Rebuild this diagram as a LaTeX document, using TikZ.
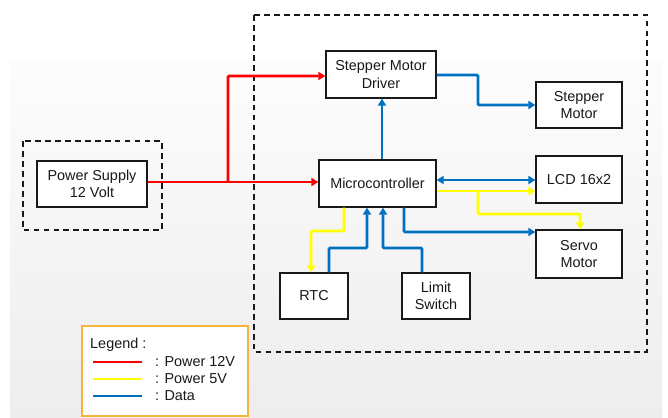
\documentclass[tikz,border=0pt]{standalone}
\usepackage{fontspec}
\setmainfont{Liberation Sans}
\usetikzlibrary{arrows.meta}
\definecolor{pRed}{RGB}{255,0,0}
\definecolor{pYel}{RGB}{255,255,0}
\definecolor{pBlue}{RGB}{0,112,192}
\definecolor{legOr}{RGB}{245,180,60}
\definecolor{txt}{RGB}{25,25,25}
\begin{document}
\begin{tikzpicture}[x=0.03cm,y=-0.03cm,
  blk/.style={draw=black!90,line width=1.2pt,fill=white,align=center,text=txt,
    font=\fontsize{12.3}{14.7}\selectfont,inner sep=0pt},
  grp/.style={draw=black!90,line width=1.1pt,dash pattern=on 5pt off 3.5pt},
  tip/.style={-{Triangle[length=6pt,width=7pt]}},
  bitip/.style={{Triangle[length=6pt,width=7pt]}-{Triangle[length=6pt,width=7pt]}},
  r12/.style={draw=pRed,line width=2.4pt,rounded corners=1pt},
  y5/.style={draw=pYel,line width=2.4pt,rounded corners=1pt},
  dat/.style={draw=pBlue,line width=2.4pt,rounded corners=1pt},
  lt/.style={text=txt,font=\fontsize{12.3}{14.7}\selectfont,inner sep=0pt,anchor=west}]
\useasboundingbox (0,0) rectangle (668,417);
\fill[white] (0,0) rectangle (668,417);
\shade[top color=black!1,bottom color=black!7] (10,60) rectangle (662,417);
% group boxes
\draw[grp] (254,15) rectangle (647,352);
\draw[grp] (23,141) rectangle (162,230);
% blocks
\node[blk,minimum width=3.3cm,minimum height=1.41cm] (smd) at (381,74.5) {Stepper Motor\\Driver};
\node[blk,minimum width=2.58cm,minimum height=1.38cm] (stm) at (579,105) {Stepper\\Motor};
\node[blk,minimum width=3.51cm,minimum height=1.41cm] (mcu) at (377.5,183.5) {Microcontroller};
\node[blk,minimum width=2.58cm,minimum height=1.41cm] (lcd) at (579,179.5) {LCD 16x2};
\node[blk,minimum width=2.58cm,minimum height=1.44cm] (srv) at (579,254) {Servo\\Motor};
\node[blk,minimum width=2.04cm,minimum height=1.38cm] (rtc) at (314,296) {RTC};
\node[blk,minimum width=2.04cm,minimum height=1.38cm] (lsw) at (436,296) {Limit\\Switch};
\node[blk,minimum width=3.3cm,minimum height=1.38cm] (ps) at (92,184) {Power Supply\\12 Volt};
% junction coordinates
\coordinate (rb) at (228,182);
\coordinate (yb) at (478,191);
% power 12V
\draw[r12,tip] (ps.east |- rb) -- (mcu.west |- rb);
\draw[r12,tip] (rb) |- (smd.west |- 0,76);
% data
\draw[dat,tip] (mcu.north -| 382,0) -- (smd.south -| 382,0);
\draw[dat,tip] (smd.east |- 0,75) -| (478,105) -- (stm.west |- 0,105);
\draw[dat,bitip] (mcu.east |- 0,180) -- (lcd.west |- 0,180);
\draw[dat,tip] (mcu.south -| 404,0) |- (srv.west |- 0,232);
\draw[dat,tip] (rtc.north -| 329,0) |- (367,248) -- (mcu.south -| 367,0);
\draw[dat,tip] (lsw.north -| 422,0) |- (383,248) -- (mcu.south -| 383,0);
% power 5V
\draw[y5,tip] (mcu.east |- yb) -- (lcd.west |- yb);
\draw[y5,tip] (yb) |- (580,214) -- (srv.north -| 580,0);
\draw[y5,tip] (mcu.south -| 344,0) |- (311,231) -- (rtc.north -| 311,0);
% legend
\node[draw=legOr,line width=1.2pt,fill=white,minimum width=4.98cm,minimum height=2.7cm,inner sep=0pt] (leg) at (165,371) {};
\node[lt] (lt0) at (90,345) {Legend :};
\node[lt] (lt1) at (155,362) {: Power 12V};
\node[lt] (lt2) at (155,379) {: Power 5V};
\node[lt] (lt3) at (155,396) {: Data};
\coordinate (l1) at (93,362);
\coordinate (l2) at (93,379);
\coordinate (l3) at (93,396);
\draw[draw=pRed,line width=2.4pt] (l1) -- ++(49,0);
\draw[draw=pYel,line width=2.4pt] (l2) -- ++(49,0);
\draw[draw=pBlue,line width=2.4pt] (l3) -- ++(49,0);
\end{tikzpicture}
\end{document}
